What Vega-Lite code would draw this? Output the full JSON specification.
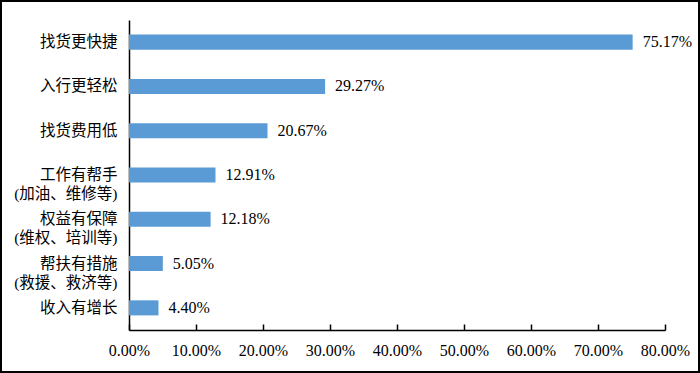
{
  "$schema": "https://vega.github.io/schema/vega-lite/v6.json",
  "width": 700,
  "height": 373,
  "autosize": {"type": "none"},
  "padding": 0,
  "background": "white",
  "config": {
    "view": {"stroke": "#000000", "strokeWidth": 4},
    "font": "Liberation Serif, Noto Sans CJK SC"
  },
  "data": {
    "values": [
      {"cat": "找货更快捷", "value": 0.7517},
      {"cat": "入行更轻松", "value": 0.2927},
      {"cat": "找货费用低", "value": 0.2067},
      {"cat": "工作有帮手|(加油、维修等)", "value": 0.1291},
      {"cat": "权益有保障|(维权、培训等)", "value": 0.1218},
      {"cat": "帮扶有措施|(救援、救济等)", "value": 0.0505},
      {"cat": "收入有增长", "value": 0.044}
    ]
  },
  "encoding": {
    "y": {
      "field": "cat",
      "type": "nominal",
      "sort": null,
      "scale": {"range": [20, 330], "paddingInner": 0.66, "paddingOuter": 0.33},
      "axis": {
        "title": null,
        "orient": "left",
        "offset": -129,
        "ticks": false,
        "domain": true,
        "domainColor": "#000000",
        "domainWidth": 1.5,
        "labelFont": "Liberation Serif, Noto Sans CJK SC",
        "labelFontSize": 15.5,
        "labelColor": "#000000",
        "labelPadding": 12,
        "labelLineHeight": 19,
        "labelExpr": "indexof(datum.label,'|')>=0 ? [split(datum.label,'|')[0] + '　', split(datum.label,'|')[1]] : datum.label"
      }
    },
    "x": {
      "field": "value",
      "type": "quantitative",
      "scale": {"domain": [0, 0.8], "range": [129, 665], "nice": false, "zero": true},
      "axis": {
        "title": null,
        "orient": "bottom",
        "offset": -43,
        "values": [0, 0.1, 0.2, 0.3, 0.4, 0.5, 0.6, 0.7, 0.8],
        "format": ".2%",
        "grid": false,
        "labelOverlap": false,
        "labelFlush": false,
        "domainColor": "#000000",
        "domainWidth": 1.5,
        "tickColor": "#000000",
        "tickSize": -6,
        "tickWidth": 1.5,
        "labelFont": "Liberation Serif",
        "labelFontSize": 16,
        "labelColor": "#000000",
        "labelPadding": 18
      }
    }
  },
  "layer": [
    {"mark": {"type": "bar", "color": "#5B9BD5"}},
    {
      "mark": {"type": "text", "align": "left", "baseline": "middle", "dx": 10, "font": "Liberation Serif", "fontSize": 16, "color": "#000000"},
      "encoding": {"text": {"field": "value", "type": "quantitative", "format": ".2%"}}
    }
  ]
}
